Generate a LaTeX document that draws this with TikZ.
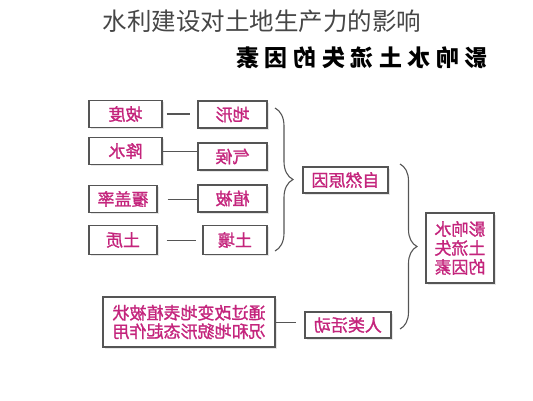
\documentclass[tikz,border=0pt]{standalone}
\usepackage{fontspec}
\usepackage{graphicx}
\setmainfont{Noto Sans CJK SC}
\newfontfamily\cjkb{Noto Sans CJK SC}
\newfontfamily\cjkbox[FakeBold=1.2]{Noto Sans CJK SC}
\usetikzlibrary{decorations.pathreplacing,shadows}
\definecolor{pinktxt}{RGB}{196,36,124}
\definecolor{boxline}{RGB}{85,85,85}
\definecolor{titlegray}{RGB}{70,70,70}
\tikzset{
  fbox/.style={draw=boxline, line width=1.2pt, fill=white, inner sep=0pt,
    text=pinktxt, font=\cjkbox\fontsize{17}{19}\selectfont, align=center,
    drop shadow={shadow xshift=1.5pt, shadow yshift=-1.5pt, opacity=.2}},
  conn/.style={draw=boxline, line width=0.9pt},
  brc/.style={draw=boxline, line width=1.1pt, decorate}
}
\begin{document}
\begin{tikzpicture}[x=1pt,y=-1pt]
\useasboundingbox (0,0) rectangle (533,400);
% titles
\node[text=titlegray, font=\fontsize{24.5}{26}\selectfont, inner sep=0] (title) at (262,21) {水利建设对土地生产力的影响};
\node[text=black, font=\cjkb\bfseries\fontsize{23}{25}\selectfont\addfontfeature{LetterSpace=24}, inner sep=0] (sub) at (362,58) {\reflectbox{影响水土流失的因素}};
% left column
\node[fbox, minimum width=73pt, minimum height=27pt] (podu) at (125.5,114) {\reflectbox{坡度}};
\node[fbox, minimum width=73pt, minimum height=27pt] (jiangshui) at (125.5,151) {\reflectbox{降水}};
\node[fbox, minimum width=68pt, minimum height=27pt] (fugai) at (123,199) {\reflectbox{覆盖率}};
\node[fbox, minimum width=68pt, minimum height=29pt] (tuzhi) at (123,240) {\reflectbox{土质}};
% middle column
\node[fbox, minimum width=69pt, minimum height=27pt] (dixing) at (232.5,114.5) {\reflectbox{地形}};
\node[fbox, minimum width=69pt, minimum height=27pt] (qihou) at (232.5,156.5) {\reflectbox{气候}};
\node[fbox, minimum width=69pt, minimum height=27pt] (zhibei) at (232.5,198.5) {\reflectbox{植被}};
\node[fbox, minimum width=64pt, minimum height=29pt] (turang) at (235,240) {\reflectbox{土壤}};
% right side
\node[fbox, minimum width=85pt, minimum height=26pt] (ziran) at (345.5,180) {\reflectbox{自然原因}};
\node[fbox, minimum width=86pt, minimum height=26pt] (renlei) at (348,325) {\reflectbox{人类活动}};
\node[fbox, minimum width=172pt, minimum height=50pt, font=\cjkbox\fontsize{17}{18.5}\selectfont] (tongguo) at (189,322) {\reflectbox{通过改变地表植被状}\\\reflectbox{况和地貌形态起作用}};
\node[fbox, minimum width=68pt, minimum height=70pt, font=\cjkbox\fontsize{17}{19}\selectfont] (yinsu) at (460,248) {\reflectbox{影响水}\\\reflectbox{土流失}\\\reflectbox{的因素}};
% connectors
\draw[conn, line width=1.2pt, shorten <=4pt, shorten >=7pt] (podu.east) -- (podu.east -| dixing.west);
\draw[conn] (jiangshui.east) -- (jiangshui.east -| qihou.west);
\draw[conn, shorten <=10pt] (fugai.east) -- (fugai.east -| zhibei.west);
\draw[conn, shorten <=9pt, shorten >=6pt] (tuzhi.east) -- (tuzhi.east -| turang.west);
\draw[conn, shorten >=8pt] (tongguo.east) -- (tongguo.east -| renlei.west);
% braces
\coordinate (b1top) at (275,108);
\coordinate (b1bot) at (275,251);
\coordinate (b2top) at (400,164);
\coordinate (b2bot) at (400,329);
\draw[brc, decoration={brace, amplitude=18pt}] (b1top) -- (b1bot);
\draw[brc, decoration={brace, amplitude=17pt}] (b2top) -- (b2bot);
\end{tikzpicture}
\end{document}
